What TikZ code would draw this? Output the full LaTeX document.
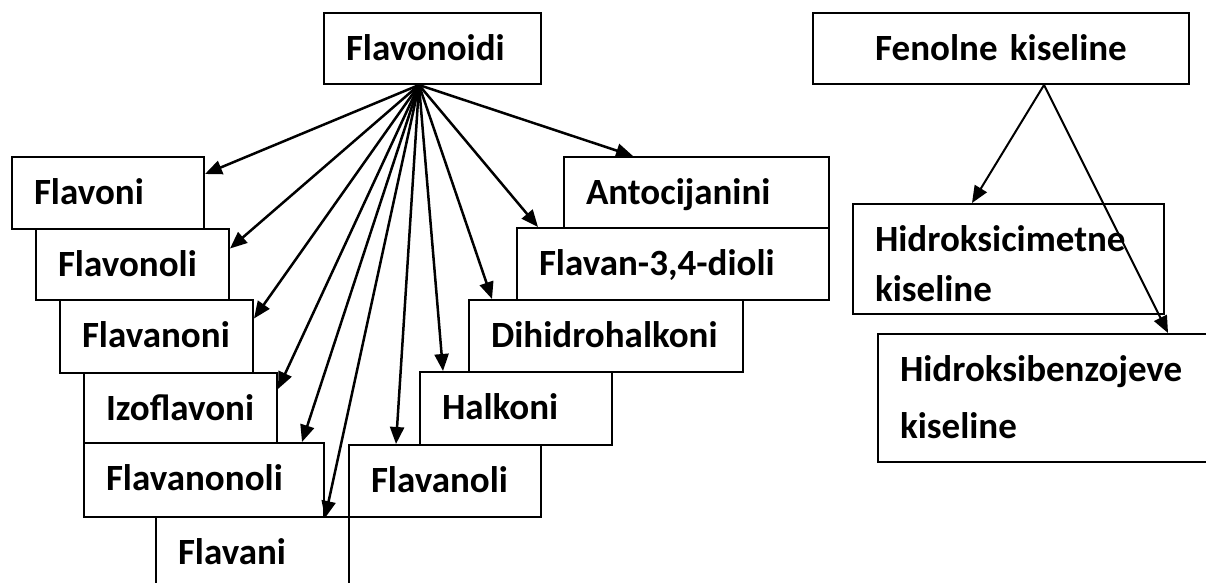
\documentclass[tikz,border=0pt]{standalone}
\usepackage{fontspec}
\setmainfont{Carlito}
\usetikzlibrary{arrows.meta}

\begin{document}
\begin{tikzpicture}[x=1pt, y=-1pt, every edge/.style={draw,solid},
                    >={Triangle[length=17pt,width=14pt]},
                    every node/.style={font=\fontsize{37}{44}\selectfont\bfseries},
                    box/.style={draw, line width=2pt, anchor=north west, inner xsep=22pt,
                                inner ysep=0pt, text height=47pt, text depth=25pt, align=left}]

\useasboundingbox (0,0) rectangle (1206,582);
\clip (0,0) rectangle (1206,582);

% top boxes
\node[box, text width=173pt, text depth=24pt] (fld) at (323,12) {Flavonoidi};
\node[box, text width=332pt, text depth=24pt, align=center] (fen) at (812,12) {Fenolne kiseline};

% left column
\node[box, text width=148pt] (fv) at (11,156) {Flavoni};
\node[box, text width=149pt, text depth=24pt] (fvl) at (35,228) {Flavonoli};
\node[box, text width=149pt, text depth=26pt] (fvo) at (59,299) {Flavanoni};
\node[box, text width=149pt, text depth=23pt] (izo) at (83,372) {Izoflavoni};
\node[box, text width=196pt, text depth=27pt] (fnl) at (83,442) {Flavanonoli};
\node[box, text width=149pt, text depth=100pt] (flv) at (155,516) {Flavani};

% right column
\node[box, text width=221pt, text depth=24pt] (ant) at (563,156) {Antocijanini};
\node[box, text width=268pt] (fdi) at (516,227) {Flavan-3,4-dioli};
\node[box, text width=230pt] (dih) at (468,299) {Dihidrohalkoni};
\node[box, text width=148pt, text depth=26pt] (hal) at (419,371) {Halkoni};
\node[box, text width=148pt] (fnli) at (348,444) {Flavanoli};

% fenolne kiseline
\node[box, text width=267pt, text depth=63pt, font=\fontsize{37}{50}\selectfont\bfseries] (hcm) at (852,203) {Hidroksicimetne\\kiseline};
\node[box, text width=296pt, text depth=81pt, font=\fontsize{37}{57}\selectfont\bfseries] (hbz) at (877,333) {Hidroksibenzojeve\\kiseline};

\coordinate (fsrc) at ([xshift=96pt]fld.south west);
\coordinate (ksrc) at ([xshift=43pt]fen.south);

\path[->, line width=2.5pt]
(fsrc) edge ([yshift=19pt]fv.east)
(fsrc) edge ([yshift=16pt]fvl.east)
(fsrc) edge ([yshift=18pt]fvo.east)
(fsrc) edge ([yshift=19pt]izo.east)
(fsrc) edge ([xshift=-23pt]fnl.north east)
(fsrc) edge (fnl.south east)
(fsrc) edge ([xshift=48pt]fnli.north west)
(fsrc) edge ([xshift=24pt]hal.north west)
(fsrc) edge ([xshift=24pt]dih.north west)
(fsrc) edge ([xshift=22pt]fdi.north west)
(fsrc) edge ([xshift=70pt]ant.north west);

\path[->, line width=2pt]
(ksrc) edge ([xshift=120pt]hcm.north west)
(ksrc) edge ([xshift=291pt]hbz.north west);
\end{tikzpicture}
\end{document}
